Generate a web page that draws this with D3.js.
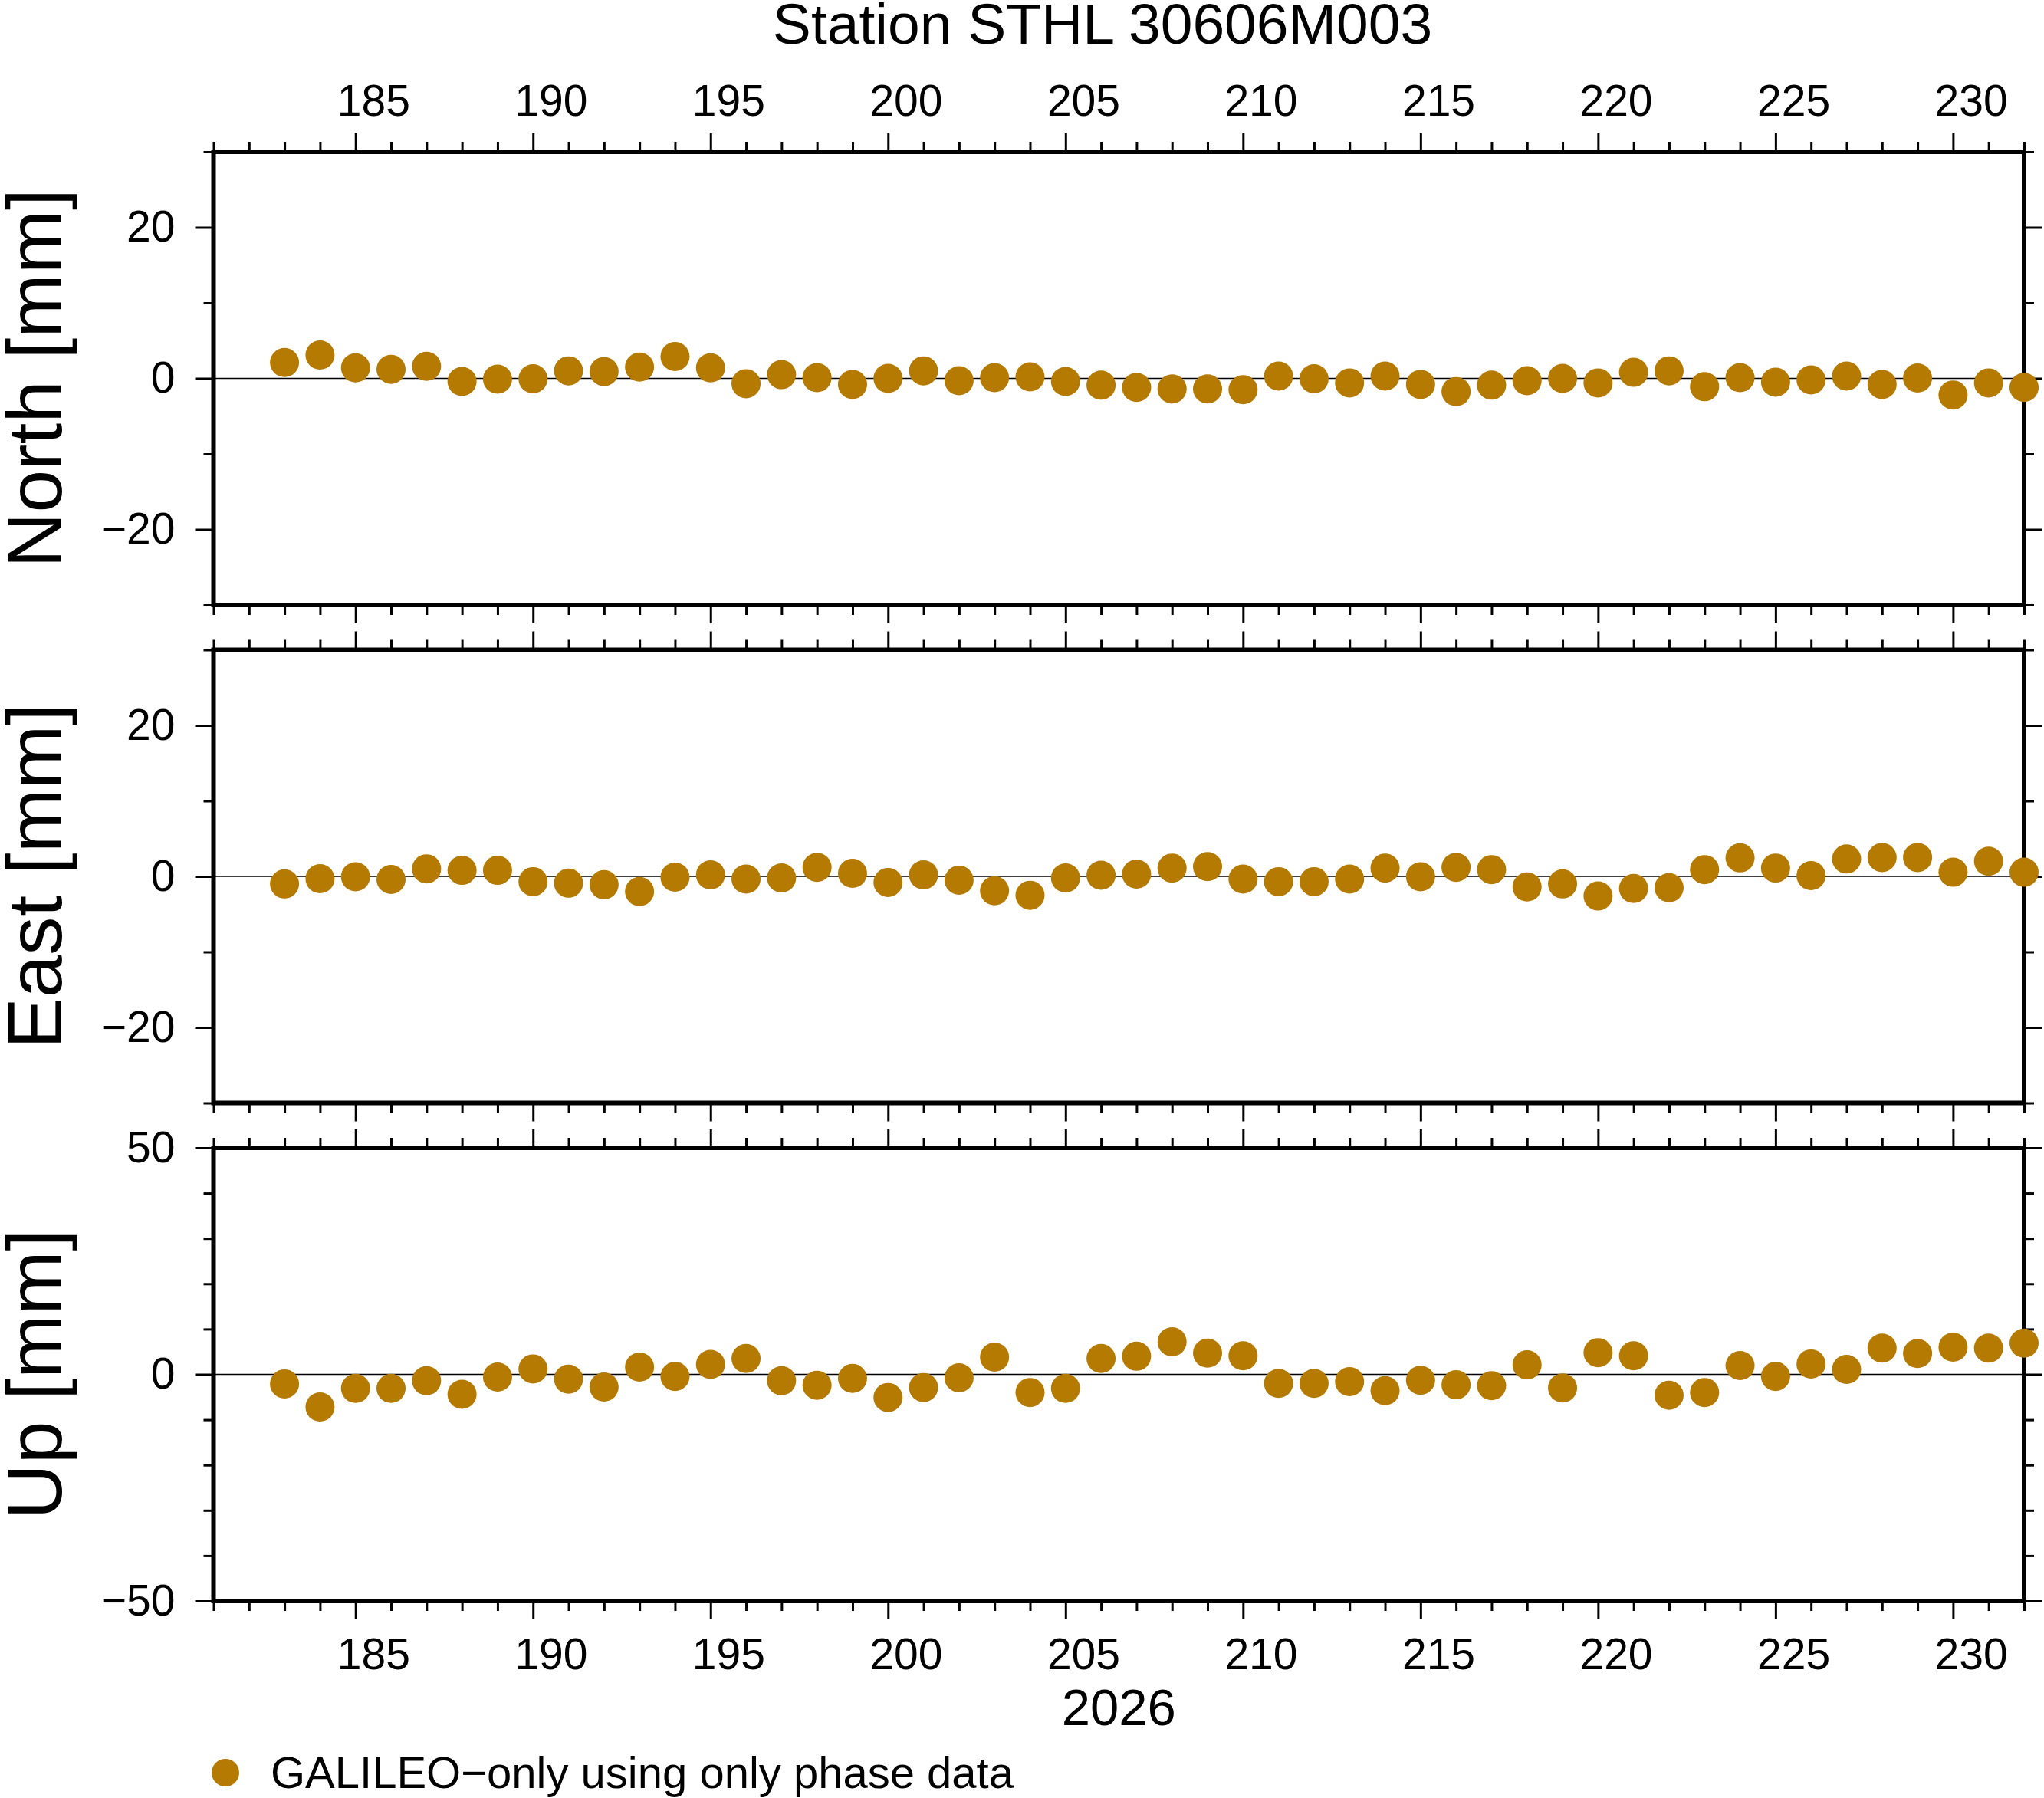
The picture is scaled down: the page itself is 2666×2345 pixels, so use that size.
<!DOCTYPE html>
<html>
<head>
<meta charset="utf-8">
<script src="https://cdn.jsdelivr.net/npm/d3@7"></script>
<style>
  body { margin: 0; background: #fff; }
  svg { display: block; }
  text { font-family: "Liberation Sans", Arial, Helvetica, sans-serif; fill: #000; }
</style>
</head>
<body>
<div id="chart"></div>
<script>
// day of year 2026
var days = [183, 184, 185, 186, 187, 188, 189, 190, 191, 192,
            193, 194, 195, 196, 197, 198, 199, 200, 201, 202,
            203, 204, 205, 206, 207, 208, 209, 210, 211, 212,
            213, 214, 215, 216, 217, 218, 219, 220, 221, 222,
            223, 224, 225, 226, 227, 228, 229, 230, 231, 232];

var north = [2.1, 3.1, 1.4, 1.2, 1.6, -0.4, -0.1, -0.05, 1.0, 0.9,
             1.5, 2.9, 1.4, -0.7, 0.5, 0.1, -0.8, 0.0, 1.0, -0.3,
             0.1, 0.2, -0.4, -0.9, -1.2, -1.4, -1.4, -1.5, 0.3, -0.05,
             -0.6, 0.3, -0.8, -1.75, -0.9, -0.3, 0.0, -0.6, 0.8, 1.0,
             -1.1, 0.1, -0.5, -0.2, 0.3, -0.8, 0.05, -2.2, -0.6, -1.2];

var east = [-1.0, -0.3, -0.05, -0.4, 1.0, 0.8, 0.8, -0.7, -0.9, -1.1,
            -2.0, -0.1, 0.2, -0.35, -0.2, 1.2, 0.4, -0.8, 0.2, -0.5,
            -1.9, -2.5, -0.2, 0.15, 0.3, 1.1, 1.3, -0.35, -0.7, -0.7,
            -0.35, 1.1, -0.05, 1.2, 0.9, -1.4, -1.0, -2.6, -1.6, -1.5,
            0.9, 2.45, 1.1, 0.1, 2.3, 2.5, 2.5, 0.55, 2.0, 0.55];

var up = [-2.1, -7.2, -3.1, -3.1, -1.4, -4.4, -0.6, 1.2, -1.05, -2.8,
          1.6, -0.45, 2.2, 3.5, -1.4, -2.4, -0.9, -5.1, -2.9, -0.75,
          3.8, -4.0, -3.1, 3.5, 4.0, 7.2, 4.7, 4.1, -2.0, -2.0,
          -1.6, -3.6, -1.3, -2.3, -2.5, 2.1, -3.0, 4.8, 4.1, -4.6,
          -4.0, 1.95, -0.45, 2.3, 1.1, 5.8, 4.6, 6.0, 5.8, 6.9];

var xDomain = [181, 232];
var xMajor = [185, 190, 195, 200, 205, 210, 215, 220, 225, 230];
var xMinor = [181, 182, 183, 184, 186, 187, 188, 189, 191, 192, 193, 194,
              196, 197, 198, 199, 201, 202, 203, 204, 206, 207, 208, 209,
              211, 212, 213, 214, 216, 217, 218, 219, 221, 222, 223, 224,
              226, 227, 228, 229, 231, 232];

var panels = [
  {label: "North [mm]", values: north, domain: [-30, 30], major: [-20, 0, 20], minor: [-30, -10, 10, 30]},
  {label: "East [mm]", values: east, domain: [-30, 30], major: [-20, 0, 20], minor: [-30, -10, 10, 30]},
  {label: "Up [mm]", values: up, domain: [-50, 50], major: [-50, 0, 50], minor: [-40, -30, -20, -10, 10, 20, 30, 40]}
];

var title = "Station STHL 30606M003";
var yearLabel = "2026";
var legendLabel = "GALILEO\u2212only using only phase data";

var W = 2666, H = 2345;
var left = 278.5, right = 2640;
var panelTop = [198, 847.5, 1497];
var panelH = 591;
var dotColor = "#b47a02";
var fontSize = 57;

var svg = d3.select("#chart").append("svg")
  .attr("width", W)
  .attr("height", H);

svg.append("rect").attr("width", W).attr("height", H).attr("fill", "#fff");

var x = d3.scaleLinear().domain(xDomain).range([left, right]);
var fmt = d3.format("d");

function styleAxis(g) {
  g.select(".domain").remove();
  g.selectAll(".tick line").attr("stroke", "#000").attr("stroke-width", 3);
  g.selectAll(".tick text").style("font-size", fontSize + "px");
}

panels.forEach(function(p, i) {
  var top = panelTop[i];
  var y = d3.scaleLinear().domain(p.domain).range([top + panelH, top]);
  var g = svg.append("g").attr("class", "panel");

  // x ticks top and bottom (minor then major)
  g.append("g").attr("transform", "translate(0," + top + ")")
    .call(d3.axisTop(x).tickValues(xMinor).tickSize(13).tickFormat(""))
    .call(styleAxis);
  var topMajor = g.append("g").attr("transform", "translate(0," + top + ")")
    .call(d3.axisTop(x).tickValues(xMajor).tickSize(24).tickPadding(23)
      .tickFormat(i == 0 ? fmt : ""))
    .call(styleAxis);
  g.append("g").attr("transform", "translate(0," + (top + panelH) + ")")
    .call(d3.axisBottom(x).tickValues(xMinor).tickSize(13).tickFormat(""))
    .call(styleAxis);
  var botMajor = g.append("g").attr("transform", "translate(0," + (top + panelH) + ")")
    .call(d3.axisBottom(x).tickValues(xMajor).tickSize(24).tickPadding(25)
      .tickFormat(i == 2 ? fmt : ""))
    .call(styleAxis);

  // labels sit in the middle of the day interval
  var half = x(xDomain[0] + 0.5) - x(xDomain[0]);
  topMajor.selectAll(".tick text").attr("x", half);
  botMajor.selectAll(".tick text").attr("x", half);

  // y ticks left and right
  g.append("g").attr("transform", "translate(" + left + ",0)")
    .call(d3.axisLeft(y).tickValues(p.minor).tickSize(13).tickFormat(""))
    .call(styleAxis);
  g.append("g").attr("transform", "translate(" + left + ",0)")
    .call(d3.axisLeft(y).tickValues(p.major).tickSize(24).tickPadding(26).tickFormat(fmt))
    .call(styleAxis);
  g.append("g").attr("transform", "translate(" + right + ",0)")
    .call(d3.axisRight(y).tickValues(p.minor).tickSize(13).tickFormat(""))
    .call(styleAxis);
  g.append("g").attr("transform", "translate(" + right + ",0)")
    .call(d3.axisRight(y).tickValues(p.major).tickSize(24).tickFormat(""))
    .call(styleAxis);

  // zero line
  g.append("line")
    .attr("x1", left).attr("x2", right)
    .attr("y1", y(0)).attr("y2", y(0))
    .attr("stroke", "#000")
    .attr("stroke-width", 1.5);

  // frame
  g.append("rect")
    .attr("x", left).attr("y", top)
    .attr("width", right - left).attr("height", panelH)
    .attr("fill", "none")
    .attr("stroke", "#000")
    .attr("stroke-width", 6);

  // points
  g.selectAll(".dot")
    .data(days)
    .enter()
    .append("circle")
    .attr("class", "dot")
    .attr("cx", function(d) { return x(d); })
    .attr("cy", function(d, j) { return y(p.values[j]); })
    .attr("r", 19)
    .attr("fill", dotColor);

  // y label
  g.append("text")
    .attr("transform", "translate(80," + (top + panelH / 2) + ") rotate(-90)")
    .attr("text-anchor", "middle")
    .style("font-size", "100px")
    .text(p.label);
});

svg.append("text")
  .attr("x", 1438)
  .attr("y", 57)
  .attr("text-anchor", "middle")
  .style("font-size", "75px")
  .text(title);

svg.append("text")
  .attr("x", (left + right) / 2)
  .attr("y", 2250)
  .attr("text-anchor", "middle")
  .style("font-size", "67px")
  .text(yearLabel);

// legend
svg.append("circle")
  .attr("cx", 294)
  .attr("cy", 2312)
  .attr("r", 18)
  .attr("fill", dotColor);

svg.append("text")
  .attr("x", 353)
  .attr("y", 2332)
  .style("font-size", "58px")
  .text(legendLabel);
</script>
</body>
</html>
